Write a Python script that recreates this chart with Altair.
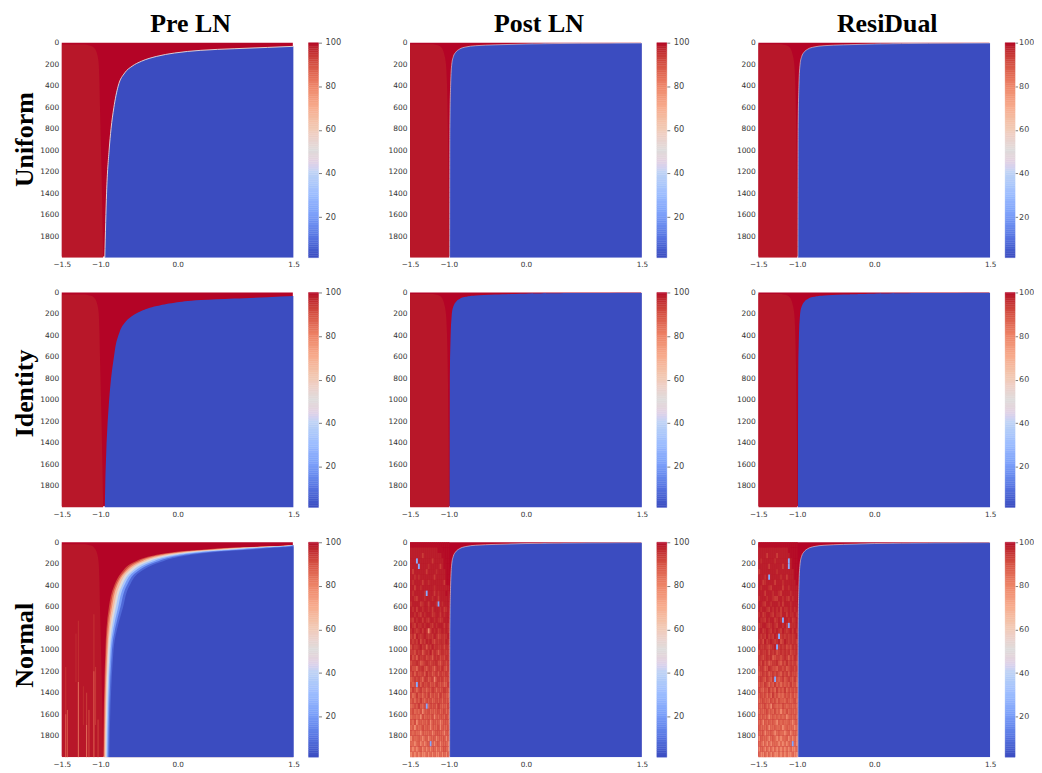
import altair as alt
import pandas as pd

ROWS = ["Uniform", "Identity", "Normal"]
COLS = ["Pre LN", "Post LN", "ResiDual"]
ROW_TITLE_Y = [97, 101, 103]

CMAP_T = [1.4, 11.26, 21.12, 30.98, 40.84, 50.7, 60.56, 70.42, 80.28, 90.14, 100]
CMAP_C = ["#3b4cc0", "#5977e3", "#7b9ff9", "#9ebeff", "#c0d4f5", "#dddcdc",
          "#f2cbb7", "#f7ac8e", "#ee8468", "#d65244", "#b40426"]
BAR_LEVELS = [1.4 + i for i in range(99)] + [100]

# boundary between the saturated red and the blue region
PRE_ITER = [34, 44, 56, 71, 96, 127, 173, 219, 281, 404, 605, 800, 1000, 1400, 2000]
PRE_X = [1.5, 1.16, 0.73, 0.30, -0.04, -0.27, -0.47, -0.59, -0.685, -0.77, -0.826, -0.862, -0.887, -0.92, -0.943]
POST_ITER = [3, 6, 12, 20, 28, 40, 60, 90, 130, 200, 400, 800, 2000]
POST_X = [1.5, 0.7, 0.0, -0.4, -0.65, -0.78, -0.86, -0.91, -0.94, -0.96, -0.975, -0.985, -0.988]

# slightly paler block at the left of every panel
TINT_PRE_ITER = [18, 30, 50, 86, 210, 550, 1167, 2000]
TINT_PRE_X = [-1.2, -1.12, -1.08, -1.05, -1.02, -1.007, -0.986, -0.964]
TINT_POST_ITER = [15, 22, 40, 100, 250, 800, 2000]
TINT_POST_X = [-1.2, -1.15, -1.1, -1.06, -1.03, -1.01, -0.995]

# iso-value contours of the Normal / Pre LN panel
NORMAL_ITER = [28, 40, 52, 65, 80, 96, 127, 188, 281, 400, 602, 1000, 2000]
NORMAL_LEVELS = [
    (92, [1.5, 1.07, 0.68, 0.39, 0.12, -0.084, -0.34, -0.577, -0.727, -0.82, -0.89, -0.935, -0.963]),
    (80, [1.5, 1.11, 0.74, 0.45, 0.18, -0.03, -0.30, -0.54, -0.70, -0.80, -0.87, -0.925, -0.955]),
    (65, [1.5, 1.16, 0.81, 0.53, 0.25, 0.03, -0.25, -0.50, -0.68, -0.78, -0.85, -0.91, -0.946]),
    (50, [1.5, 1.22, 0.88, 0.61, 0.32, 0.10, -0.19, -0.46, -0.65, -0.75, -0.826, -0.90, -0.936]),
    (35, [1.5, 1.29, 0.965, 0.71, 0.41, 0.17, -0.13, -0.41, -0.61, -0.72, -0.80, -0.88, -0.924]),
    (20, [1.5, 1.35, 1.05, 0.81, 0.50, 0.25, -0.065, -0.355, -0.577, -0.69, -0.77, -0.867, -0.912]),
    (8, [1.5, 1.42, 1.15, 0.91, 0.60, 0.34, 0.007, -0.30, -0.538, -0.656, -0.74, -0.85, -0.899]),
    (1.4, [1.5, 1.5, 1.25, 1.03, 0.70, 0.43, 0.083, -0.238, -0.496, -0.62, -0.706, -0.83, -0.885]),
]
# pale vertical streaks in Normal / Pre LN: x, first iter, last iter, value
STREAKS = [
    (-1.448, 1160, 1600, 95), (-1.448, 1600, 2000, 85),
    (-1.427, 1560, 2000, 88),
    (-1.285, 730, 1300, 95), (-1.285, 1300, 2000, 82),
    (-1.316, 850, 1300, 96),
    (-1.178, 1400, 1700, 93), (-1.178, 1700, 2000, 82),
    (-1.148, 1560, 2000, 90),
    (-1.22, 1340, 1700, 96),
    (-1.084, 670, 1200, 95), (-1.084, 1200, 2000, 85),
    (-1.062, 1160, 1700, 94),
    (-1.03, 1650, 2000, 92),
]

# hand-read cell values of the noisy block (Normal / Post LN and ResiDual); 50 iterations a row
NOISE_VALUES = {"0": 25, "1": 62, "2": 79, "3": 85.5, "4": 88, "5": 91, "6": 94, "7": 96, "8": 98, "9": 99.5}
NOISE_POST = [
    "99999999999999999999", "88888888888888999999", "88888868888888889999", "88808888888688888999",
    "88880888878888868999", "86888888688887888899", "88787888888868888899", "87888868878888888699",
    "88688788888878888888", "87888887088868788898", "88768887888788688888", "78888678868887087888",
    "87868878878688878678", "88787687888678868788", "76878868768878767888", "87687787887687888687",
    "78767868726878678787", "67587678767687567678", "76768576878657677687", "57667867476867667576",
    "66576746768576467666", "75647667566476756576", "56676456765667546656", "65536675466536657546",
    "56465564756456465565", "45656536645625656455", "54506465564546545346", "46535645354653545654",
    "53464535463545364543", "45354643545345453544", "34546435035453643435", "45343524453434534534",
    "34434253443524344353", "43524434352443423443", "34243353442433524334", "43433243334234433243",
    "24334323423342333423", "33234232340323423332", "32323423232332323432", "23232322323232232323",
]
NOISE_RESI = [
    "99999999999999999999", "88888888888888899999", "88886888868888889999", "87888888788888808999",
    "88888688888868808999", "68888888878888888899", "88878088888788688899", "88678888688878888889",
    "87888768888868878888", "88868887887688887888", "78887887668878768788", "88768878887868887888",
    "87887687878687787878", "78678876877688687787", "87768788678708878678", "67887678768878607778",
    "78678768787687678687", "76768676870676767678", "67586787678568767676", "76676567806767565767",
    "57667576756767675667", "66567674566567646576", "65756456675465756565", "56645765546656456656",
    "45656456565465646555", "56546546054564565464", "45465354645354546453", "54354645364546354545",
    "45453536453435453534", "34544354535443543453", "43453425434354344343", "34345343534243534434",
    "43434234343434234343", "34243434324343343234", "43334233433423433323", "33423343234332342333",
    "24333234323233423232", "33232323332323233032", "23323232323232323223", "32232323223232322322",
]
NOISE_X0 = -1.5
NOISE_DX = 0.0255
NOISE_DY = 50

Y_TICKS = [0, 200, 400, 600, 800, 1000, 1200, 1400, 1600, 1800]
X_TICKS = [-1.5, -1.0, 0.0, 1.5]
BAR_TICKS = [20, 40, 60, 80, 100]

W, H = 233, 216
scale_x = alt.Scale(domain=[-1.5, 1.5], nice=False, zero=False)
scale_y = alt.Scale(domain=[2000, 0], nice=False, zero=False)
scale_c = alt.Scale(domain=CMAP_T, range=CMAP_C, clamp=True)
color = alt.Color("v:Q", scale=scale_c, legend=None)


def make_axes(r, c):
    y_axis = alt.Axis(values=Y_TICKS, format="d", labelFontSize=7.5, labelColor="#333333", labelFont="DejaVu Sans",
                      tickSize=0, domain=False, grid=False, labelPadding=3, labelOverlap=False,
                      labelFlush=False, minExtent=24, maxExtent=24,
                      title=ROWS[r] if c == 0 else None,
                      titleFont="Liberation Serif", titleFontWeight="bold", titleFontSize=26,
                      titleColor="#000000", titleAngle=-90, titleY=ROW_TITLE_Y[r], titlePadding=0,
                      titleAlign="center", titleBaseline="bottom")
    x_axis = alt.Axis(values=X_TICKS, format=".1f", labelFontSize=7.3, labelColor="#333333",
                      labelFont="DejaVu Sans", tickSize=0, domain=False, grid=False, labelPadding=3,
                      labelOverlap=False, labelFlush=False, labelBound=False, title=None)
    return x_axis, y_axis


def band(iters, xs, v, right=True):
    end = 1.5 if right else -1.5
    return pd.DataFrame({"iter": iters, "b": xs, "e": end, "v": v})


def area(df, ax):
    return alt.Chart(df).mark_area(orient="horizontal", interpolate="monotone", clip=True).encode(
        x=alt.X("b:Q", scale=scale_x, axis=ax[0], stack=None),
        x2="e:Q",
        y=alt.Y("iter:Q", scale=scale_y, axis=ax[1]),
        color=color,
    )


def edge(df, ax, width):
    return alt.Chart(df).mark_line(orient="horizontal", interpolate="monotone", clip=True,
                                   stroke="#eadfda", strokeWidth=width).encode(
        x=alt.X("b:Q", scale=scale_x, axis=ax[0]),
        y=alt.Y("iter:Q", scale=scale_y, axis=ax[1]),
        order="iter:Q",
    )


def cells(rows, ax):
    recs = []
    for r, row in enumerate(rows):
        for c, ch in enumerate(row):
            recs.append({"x0": NOISE_X0 + c * NOISE_DX, "x1": NOISE_X0 + (c + 1) * NOISE_DX,
                         "y0": r * NOISE_DY, "y1": (r + 1) * NOISE_DY, "v": NOISE_VALUES[ch]})
    return alt.Chart(pd.DataFrame(recs)).mark_rect(strokeWidth=0).encode(
        x=alt.X("x0:Q", scale=scale_x, axis=ax[0]), x2="x1:Q",
        y=alt.Y("y0:Q", scale=scale_y, axis=ax[1]), y2="y1:Q", color=color)


def panel(r, c):
    ax = make_axes(r, c)
    bg = alt.Chart(pd.DataFrame({"x0": [-1.5], "x1": [1.49], "y0": [0], "y1": [1990], "v": [100]})).mark_rect().encode(
        x=alt.X("x0:Q", scale=scale_x, axis=ax[0]),
        x2="x1:Q",
        y=alt.Y("y0:Q", scale=scale_y, axis=ax[1]),
        y2="y1:Q",
        color=color,
    )
    layers = [bg]
    if c == 0:
        layers.append(area(band(TINT_PRE_ITER, TINT_PRE_X, 98.8, right=False), ax))
        if r == 2:
            s = pd.DataFrame(STREAKS, columns=["x0", "y0", "y1", "v"])
            layers.append(alt.Chart(s).mark_rule(strokeWidth=0.9).encode(
                x=alt.X("x0:Q", scale=scale_x, axis=ax[0]),
                y=alt.Y("y0:Q", scale=scale_y, axis=ax[1]), y2="y1:Q", color=color))
            for v, xs in NORMAL_LEVELS:
                layers.append(area(band(NORMAL_ITER, xs, v), ax))
        else:
            d = band(PRE_ITER, PRE_X, 1.4)
            layers.append(area(d, ax))
            if r == 0:
                layers.append(edge(d, ax, 0.9))
    else:
        layers.append(area(band(TINT_POST_ITER, TINT_POST_X, 98.8, right=False), ax))
        if r == 2:
            layers.append(cells(NOISE_POST if c == 1 else NOISE_RESI, ax))
        d = band(POST_ITER, POST_X, 1.4)
        layers.append(area(d, ax))
        if r != 1:
            layers.append(edge(d, ax, 0.6))
    ch = alt.layer(*layers).properties(width=W, height=H)
    if r == 0:
        ch = ch.properties(title=alt.TitleParams(COLS[c], font="Liberation Serif", fontWeight="bold", fontSize=26,
                                                 color="#000000", anchor="middle", dx=13, offset=2))
    return ch


def colorbar(last):
    lo = BAR_LEVELS[:-1]
    hi = BAR_LEVELS[1:]
    df = pd.DataFrame({"lo": lo, "hi": hi, "v": [(a + b) / 2 for a, b in zip(lo, hi)]})
    return alt.Chart(df).mark_rect(strokeWidth=0.4).encode(
        y=alt.Y("lo:Q", scale=alt.Scale(domain=[1.4, 100], nice=False, zero=False),
                axis=alt.Axis(orient="right", values=BAR_TICKS, labelFontSize=8.0 if last else 8.3,
                              labelColor="#444444", labelFont="DejaVu Sans", tickSize=2.5 if last else 3,
                              tickColor="#444444", tickWidth=0.7, domain=False, grid=False,
                              labelPadding=1 if last else 3.5, title=None, labelOverlap=False,
                              labelFlush=False, labelBound=False)),
        y2="hi:Q",
        color=color,
        stroke=alt.Stroke("v:Q", scale=scale_c, legend=None),
    ).properties(width=10, height=H)


rows = []
for r in range(3):
    pairs = [alt.hconcat(panel(r, c), colorbar(c == 2), spacing=8) for c in range(3)]
    rows.append(alt.hconcat(*pairs, spacing=45))

chart = alt.vconcat(*rows, spacing=19).properties(
    padding={"left": 4, "right": 0, "top": 1, "bottom": 0}, background="#ffffff").configure_view(stroke=None)
chart.save("out.html", embed_options={"renderer": "svg", "actions": False})
